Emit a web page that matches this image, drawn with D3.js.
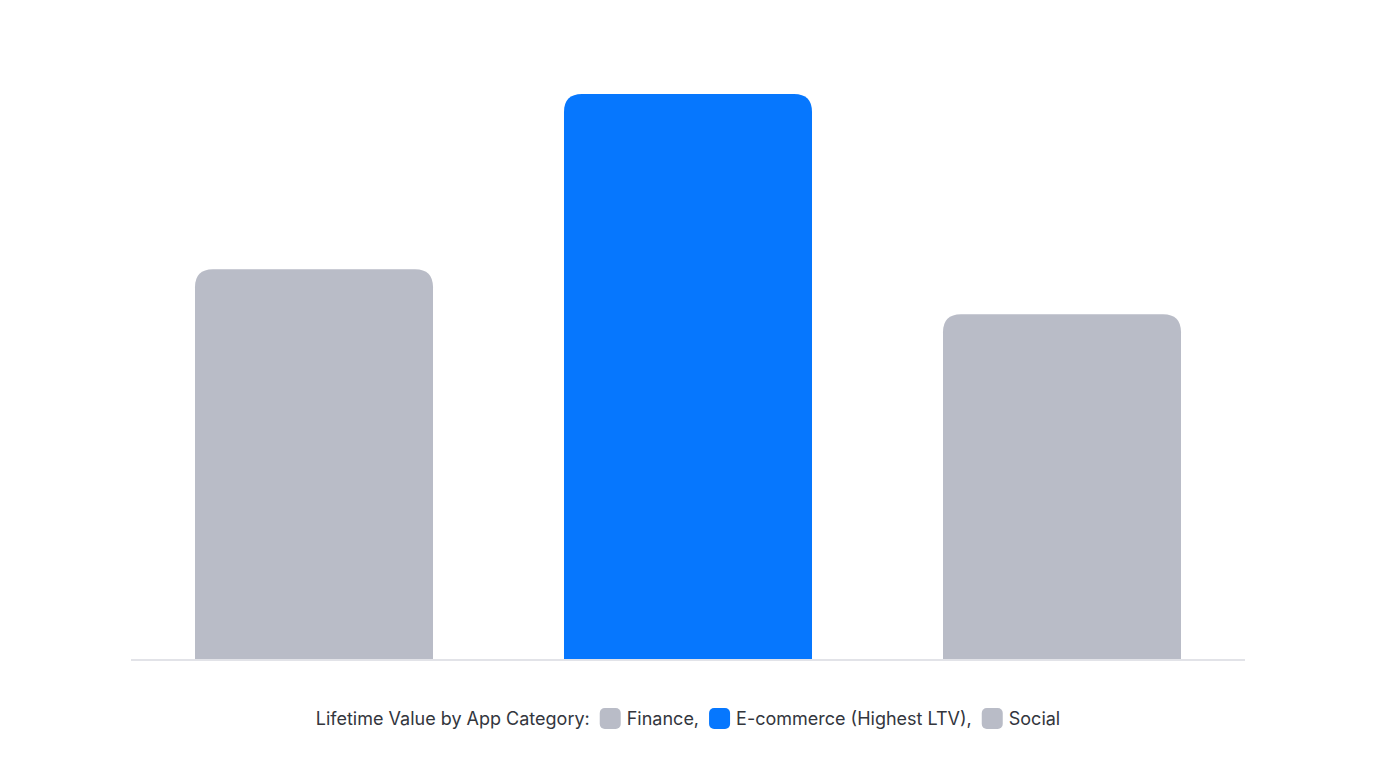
<!DOCTYPE html>
<html><head><meta charset="utf-8">
<script src="https://cdn.jsdelivr.net/npm/d3@7"></script>
<style>html,body{margin:0;padding:0;background:#fff;}svg{display:block;}</style>
</head><body>
<svg id="chart" width="1376" height="768"></svg>
<script>
const categories = ["Finance", "E-commerce", "Social"];
const legendLabels = ["Finance,", "E-commerce (Highest LTV),", "Social"];
const ltvValues = [138, 200, 122];
const highlight = "E-commerce";
const legendTitle = "Lifetime Value by App Category:";

const W = 1376, H = 768;
const svg = d3.select("#chart");
const x = d3.scaleBand().domain(categories).range([127, 1249]).paddingInner(0.3636).paddingOuter(0.1818);
const y = d3.scaleLinear().domain([0, 200]).range([659, 94]);
const gray = "#b9bcc7", blue = "#0677fe";
const r = 18;
function topRounded(x0, y0, w, h, rr) {
  return `M${x0},${y0+h}V${y0+rr}Q${x0},${y0} ${x0+rr},${y0}H${x0+w-rr}Q${x0+w},${y0} ${x0+w},${y0+rr}V${y0+h}Z`;
}
svg.append("g").selectAll("path").data(categories).join("path")
  .attr("d", (c, i) => {
    const cx = x(c) + x.bandwidth() / 2;
    const w = c === highlight ? x.bandwidth() * 1.042 : x.bandwidth();
    return topRounded(cx - w / 2, y(ltvValues[i]), w, y(0) - y(ltvValues[i]), r);
  })
  .attr("fill", c => c === highlight ? blue : gray);

svg.append("line").attr("x1", 131).attr("x2", 1245).attr("y1", 660).attr("y2", 660)
  .attr("stroke", "#e2e3e8").attr("stroke-width", 2);

// legend
const lg = svg.append("g").attr("font-family", "Inter, 'Noto Sans', sans-serif").attr("font-size", 18).attr("fill", "#33363d");
let cx = 0;
const t = lg.append("text").attr("x", 0).attr("y", 725).text(legendTitle);
cx = t.node().getComputedTextLength() + 10;
categories.forEach((c, i) => {
  lg.append("rect").attr("x", cx).attr("y", 708).attr("width", 21).attr("height", 21).attr("rx", 5)
    .attr("fill", c === highlight ? blue : gray);
  cx += 27;
  const tt = lg.append("text").attr("x", cx).attr("y", 725).text(legendLabels[i]);
  cx += tt.node().getComputedTextLength() + 10;
});
const total = cx - 10;
lg.attr("transform", `translate(${688 - total / 2},0)`);
</script>
</body></html>
